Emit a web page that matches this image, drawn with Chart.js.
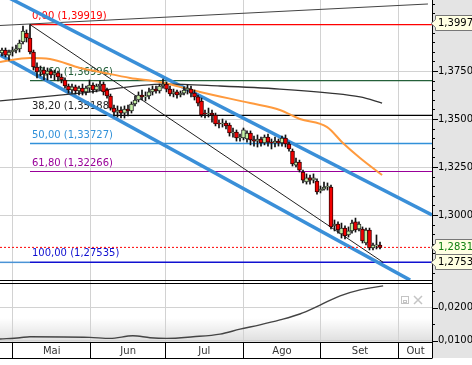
<!DOCTYPE html>
<html>
<head>
<meta charset="utf-8">
<script src="https://cdn.jsdelivr.net/npm/chart.js@4.4.0/dist/chart.umd.min.js"></script>
<style>
  html, body { margin: 0; padding: 0; background: #fff; }
  canvas { display: block; }
</style>
</head>
<body>
<canvas id="chart" width="472" height="365"></canvas>
<script>
// daily candles, one per trading day (index 0 = last days of April)
const opens = [
  1.3844, 1.3859, 1.3833, 1.3849, 1.3859, 1.3865, 1.3901, 1.3948, 1.3922, 1.3849,
  1.3771, 1.3745, 1.3755, 1.3734, 1.3750, 1.3729, 1.3740, 1.3719, 1.3703, 1.3672,
  1.3651, 1.3667, 1.3646, 1.3661, 1.3641, 1.3661, 1.3677, 1.3651, 1.3672, 1.3682,
  1.3651, 1.3620, 1.3557, 1.3536, 1.3547, 1.3531, 1.3552, 1.3542, 1.3578, 1.3599,
  1.3625, 1.3615, 1.3620, 1.3641, 1.3656, 1.3646, 1.3672, 1.3682, 1.3656, 1.3630,
  1.3641, 1.3625, 1.3635, 1.3651, 1.3656, 1.3635, 1.3615, 1.3594, 1.3531, 1.3526,
  1.3531, 1.3521, 1.3479, 1.3474, 1.3479, 1.3469, 1.3427, 1.3432, 1.3401, 1.3401,
  1.3396, 1.3427, 1.3391, 1.3385, 1.3396, 1.3375, 1.3406, 1.3380, 1.3375, 1.3385,
  1.3375, 1.3401, 1.3370, 1.3333, 1.3260, 1.3276, 1.3224, 1.3172, 1.3193, 1.3182,
  1.3177, 1.3125, 1.3135, 1.3146, 1.3146, 1.2943, 1.2953, 1.2901, 1.2932, 1.2896,
  1.2917, 1.2964, 1.2927, 1.2927, 1.2854, 1.2922, 1.2828, 1.2839, 1.2844
];
const highs = [
  1.3870, 1.3870, 1.3859, 1.3875, 1.3885, 1.3911, 1.3984, 1.3964, 1.3992, 1.3859,
  1.3792, 1.3776, 1.3771, 1.3766, 1.3760, 1.3755, 1.3750, 1.3734, 1.3714, 1.3682,
  1.3682, 1.3677, 1.3672, 1.3682, 1.3672, 1.3703, 1.3688, 1.3682, 1.3698, 1.3693,
  1.3661, 1.3630, 1.3573, 1.3568, 1.3563, 1.3568, 1.3573, 1.3589, 1.3620, 1.3641,
  1.3651, 1.3641, 1.3661, 1.3672, 1.3672, 1.3682, 1.3708, 1.3693, 1.3672, 1.3656,
  1.3651, 1.3646, 1.3667, 1.3677, 1.3672, 1.3651, 1.3625, 1.3609, 1.3547, 1.3557,
  1.3547, 1.3531, 1.3495, 1.3500, 1.3490, 1.3479, 1.3453, 1.3443, 1.3422, 1.3453,
  1.3438, 1.3438, 1.3411, 1.3417, 1.3406, 1.3417, 1.3422, 1.3396, 1.3406, 1.3396,
  1.3411, 1.3417, 1.3380, 1.3344, 1.3297, 1.3286, 1.3234, 1.3214, 1.3208, 1.3214,
  1.3188, 1.3151, 1.3172, 1.3167, 1.3156, 1.2974, 1.2964, 1.2958, 1.2943, 1.2938,
  1.2974, 1.2984, 1.2964, 1.2938, 1.2932, 1.2932, 1.2854, 1.2896, 1.2859
];
const lows = [
  1.3828, 1.3823, 1.3807, 1.3828, 1.3844, 1.3849, 1.3891, 1.3901, 1.3839, 1.3755,
  1.3714, 1.3724, 1.3703, 1.3703, 1.3714, 1.3703, 1.3698, 1.3688, 1.3661, 1.3635,
  1.3635, 1.3630, 1.3625, 1.3625, 1.3625, 1.3641, 1.3635, 1.3641, 1.3651, 1.3625,
  1.3609, 1.3547, 1.3516, 1.3510, 1.3505, 1.3505, 1.3516, 1.3531, 1.3568, 1.3589,
  1.3599, 1.3594, 1.3604, 1.3625, 1.3635, 1.3635, 1.3661, 1.3641, 1.3620, 1.3615,
  1.3609, 1.3615, 1.3625, 1.3630, 1.3615, 1.3599, 1.3568, 1.3510, 1.3505, 1.3510,
  1.3484, 1.3464, 1.3453, 1.3458, 1.3448, 1.3411, 1.3406, 1.3385, 1.3385, 1.3391,
  1.3380, 1.3365, 1.3359, 1.3354, 1.3359, 1.3365, 1.3359, 1.3344, 1.3354, 1.3359,
  1.3359, 1.3354, 1.3333, 1.3255, 1.3250, 1.3224, 1.3167, 1.3161, 1.3161, 1.3167,
  1.3109, 1.3115, 1.3130, 1.3130, 1.2927, 1.2917, 1.2906, 1.2880, 1.2875, 1.2885,
  1.2906, 1.2911, 1.2917, 1.2854, 1.2844, 1.2818, 1.2818, 1.2823, 1.2823
];
const closes = [
  1.3859, 1.3833, 1.3849, 1.3859, 1.3865, 1.3896, 1.3958, 1.3922, 1.3849, 1.3771,
  1.3745, 1.3755, 1.3734, 1.3750, 1.3729, 1.3740, 1.3719, 1.3703, 1.3672, 1.3651,
  1.3667, 1.3646, 1.3661, 1.3641, 1.3661, 1.3677, 1.3651, 1.3672, 1.3682, 1.3641,
  1.3620, 1.3557, 1.3536, 1.3547, 1.3531, 1.3552, 1.3542, 1.3578, 1.3599, 1.3625,
  1.3615, 1.3620, 1.3641, 1.3656, 1.3646, 1.3672, 1.3682, 1.3656, 1.3630, 1.3641,
  1.3625, 1.3635, 1.3651, 1.3661, 1.3635, 1.3615, 1.3583, 1.3521, 1.3526, 1.3531,
  1.3521, 1.3474, 1.3474, 1.3479, 1.3464, 1.3427, 1.3432, 1.3401, 1.3406, 1.3443,
  1.3427, 1.3391, 1.3385, 1.3396, 1.3375, 1.3406, 1.3380, 1.3375, 1.3385, 1.3375,
  1.3401, 1.3370, 1.3344, 1.3266, 1.3276, 1.3234, 1.3182, 1.3193, 1.3182, 1.3193,
  1.3120, 1.3135, 1.3146, 1.3151, 1.2938, 1.2953, 1.2922, 1.2932, 1.2891, 1.2917,
  1.2958, 1.2922, 1.2953, 1.2865, 1.2922, 1.2828, 1.2844, 1.2842, 1.2831
];

// moving averages (sampled along the curve)
const fastMaX = [-0.57, 8, 13.7, 22.3, 28, 36.6, 45.1, 56.6, 70.9, 79.4, 85.1, 92.9, 97.4, 102.3, 108.6];
const fastMaY = [1.3797, 1.3818, 1.3813, 1.3766, 1.3745, 1.3714, 1.3693, 1.3641, 1.3583, 1.3547, 1.3500, 1.3458, 1.3375, 1.3297, 1.3208];
const slowMaX = [-0.57, 22.3, 46.6, 62.3, 79.4, 93.7, 102.3, 108.6];
const slowMaY = [1.3594, 1.3635, 1.3682, 1.3672, 1.3656, 1.3635, 1.3615, 1.3583];

// drawn trend lines: [x start, x end], [price start, price end]
const upperChannelX = [-0.57, 122.86], upperChannelY = [1.4155, 1.3000];
const lowerChannelX = [-0.57, 116.6], lowerChannelY = [1.3833, 1.2661];
const fibBaseX = [8, 108.9], fibBaseY = [1.39919, 1.27535];
const topLineX = [-0.57, 121.7], topLineY = [1.3987, 1.4099];

// fibonacci retracement
const fibPcts = ['0,00', '23,60', '38,20', '50,00', '61,80', '100,00'];
const fibPrices = [1.39919, 1.36996, 1.35188, 1.33727, 1.32266, 1.27535];
const fibColors = ['#ff0000', '#24603a', '#000000', '#3191d9', '#990099', '#1010d0'];
const fibStart = 8;

const lastClose = 1.28314;
const axisMarks = [1.39975, 1.28314, 1.27535];
const axisMarkColors = ['#000000', '#108010', '#000000'];

// lower indicator panel
const indX = [-0.57, 5.1, 8, 25.1, 30.9, 37.4, 42.3, 47.1, 54.6, 62.3, 68, 73.7, 79.4, 85.1, 90.9, 96.6, 102.3, 108.9];
const indY = [0.0105, 0.0109, 0.0112, 0.0110, 0.0107, 0.0115, 0.0109, 0.0107, 0.0112, 0.0120, 0.0135, 0.0148, 0.0163, 0.0181, 0.0208, 0.0236, 0.0254, 0.0266];

// axes
const monthStarts = [3.06, 25.34, 46.77, 68.86, 91.14, 113.43];
const monthNames = ['Mai', 'Jun', 'Jul', 'Ago', 'Set', 'Out'];
const priceTickValues = [1.3, 1.325, 1.35, 1.375];
const priceTickLabels = ['1,3000', '1,3250', '1,3500', '1,3750'];
const indTickValues = [0.01, 0.02];
const indTickLabels = ['0,0100', '0,0200'];

const xMin = -0.57, xMax = 122.86;
const FONT = '"DejaVu Sans", Verdana, sans-serif';

Chart.defaults.font.family = FONT;
Chart.defaults.font.size = 10;

const idx = opens.map((_, i) => i);
const isUp = i => closes[i] >= opens[i];
const pts = (xs, ys) => xs.map((x, i) => ({ x: x, y: ys[i] }));
const flat = (x0, x1, v) => [{ x: x0, y: v }, { x: x1, y: v }];

function lineSet(data, color, width, order, extra) {
    return Object.assign({
        type: 'line', data: data, borderColor: color, borderWidth: width,
        pointRadius: 0, fill: false, tension: 0, yAxisID: 'y', order: order
    }, extra || {});
}

const datasets = [
    {
        type: 'bar', order: 0, grouped: false, barThickness: 4, minBarLength: 1,
        data: idx.map(i => ({ x: i, y: [opens[i], closes[i]] })),
        backgroundColor: idx.map(i => isUp(i) ? '#c4f0a4' : '#f20000'),
        borderColor: idx.map(i => isUp(i) ? '#2a2a2a' : '#3a0000'),
        borderWidth: 1, borderSkipped: false, yAxisID: 'y'
    },
    {
        type: 'bar', order: 1, grouped: false, barThickness: 1,
        data: idx.map(i => ({ x: i, y: [lows[i], highs[i]] })),
        backgroundColor: '#111', borderWidth: 0, yAxisID: 'y'
    },
    lineSet(flat(xMin, xMax, lastClose), '#ff0000', 1, 2, { borderDash: [2, 2] }),
    lineSet(pts(fastMaX, fastMaY), '#ff9a3d', 2, 3, { cubicInterpolationMode: 'monotone' }),
    lineSet(pts(slowMaX, slowMaY), '#333333', 1.3, 3, { cubicInterpolationMode: 'monotone' }),
    lineSet(pts(upperChannelX, upperChannelY), '#3a8fd8', 3.5, 4),
    lineSet(pts(lowerChannelX, lowerChannelY), '#3a8fd8', 3.5, 4),
    lineSet(pts(fibBaseX, fibBaseY), '#222222', 1, 4),
    lineSet(pts(topLineX, topLineY), '#444444', 1, 4),
    lineSet(flat(xMin, fibStart, fibPrices[5]), '#4a93d6', 1.5, 5),
    lineSet(pts(indX, indY), '#444444', 1.4, 3, { yAxisID: 'y2', cubicInterpolationMode: 'monotone' })
];
fibPrices.forEach((p, k) => {
    datasets.push(lineSet(flat(fibStart, xMax, p), fibColors[k], k === 3 || k === 5 ? 1.5 : 1.2, 5));
});

function fmt(v) { return v.toFixed(5).replace('.', ','); }

const decor = {
    id: 'decor',
    beforeDraw(chart) {
        const c = chart.ctx, a = chart.chartArea, y2 = chart.scales.y2;
        c.save();
        c.fillStyle = '#ffffff';
        c.fillRect(0, 0, chart.width, chart.height);
        c.fillStyle = '#e4e4e4';
        c.fillRect(a.right, 0, chart.width - a.right, 358);
        const g = c.createLinearGradient(0, y2.bottom - 24, 0, y2.bottom);
        g.addColorStop(0, 'rgba(0,0,0,0)');
        g.addColorStop(1, 'rgba(0,0,0,0.13)');
        c.fillStyle = g;
        c.fillRect(a.left, y2.bottom - 24, a.right - a.left, 24);
        c.restore();
    },
    beforeDatasetsDraw(chart) {
        const c = chart.ctx, xs = chart.scales.x, ys = chart.scales.y;
        c.save();
        c.font = '10px ' + FONT;
        c.textBaseline = 'middle';
        c.textAlign = 'left';
        fibPrices.forEach((p, k) => {
            c.fillStyle = fibColors[k] === '#000000' ? '#222' : fibColors[k];
            c.fillText(fibPcts[k] + ' (' + fmt(p) + ')', xs.getPixelForValue(fibStart) + 2, ys.getPixelForValue(p) - 8.5);
        });
        c.restore();
    },
    afterDraw(chart) {
        const c = chart.ctx, a = chart.chartArea, xs = chart.scales.x;
        const ys = chart.scales.y, y2 = chart.scales.y2;
        c.save();
        // axis tick marks
        c.strokeStyle = '#000';
        c.lineWidth = 1;
        [[ys, priceTickValues], [y2, indTickValues]].forEach(([s, majors]) => {
            s.ticks.forEach(t => {
                const major = majors.some(v => Math.abs(v - t.value) < 1e-9);
                const py = Math.round(s.getPixelForValue(t.value)) + 0.5;
                c.beginPath();
                c.moveTo(a.right, py);
                c.lineTo(a.right + (major ? 6 : 3), py);
                c.stroke();
            });
        });
        // panel borders
        c.beginPath();
        c.moveTo(a.left, ys.bottom - 0.5); c.lineTo(a.right, ys.bottom - 0.5);
        c.moveTo(a.left, ys.bottom + 2.5); c.lineTo(a.right, ys.bottom + 2.5);
        c.moveTo(a.left, 358.5); c.lineTo(a.right, 358.5);
        c.moveTo(a.right + 0.5, a.bottom); c.lineTo(a.right + 0.5, 358.5);
        c.stroke();
        // month names
        c.font = '10px ' + FONT;
        c.fillStyle = '#333';
        c.textAlign = 'center';
        c.textBaseline = 'middle';
        monthStarts.forEach((m, k) => {
            const x0 = xs.getPixelForValue(m);
            const x1 = k + 1 < monthStarts.length ? xs.getPixelForValue(monthStarts[k + 1]) : a.right;
            c.fillText(monthNames[k], (x0 + x1) / 2, 351);
        });
        // price markers on the axis
        c.textAlign = 'left';
        axisMarks.forEach((v, k) => {
            const py = Math.round(ys.getPixelForValue(v));
            c.fillStyle = '#ffffe2';
            c.strokeStyle = '#777';
            c.beginPath();
            c.moveTo(a.right - 1, py + 0.5);
            c.lineTo(a.right + 3.5, py - 3.5);
            c.lineTo(a.right + 3.5, py - 7.5);
            c.lineTo(chart.width + 2, py - 7.5);
            c.lineTo(chart.width + 2, py + 7.5);
            c.lineTo(a.right + 3.5, py + 7.5);
            c.lineTo(a.right + 3.5, py + 4.5);
            c.closePath();
            c.fill();
            c.stroke();
            c.fillStyle = axisMarkColors[k];
            c.fillText(fmt(v), a.right + 6, py + 0.5);
        });
        // panel buttons
        c.strokeStyle = '#c4c4c4';
        c.lineWidth = 1;
        c.strokeRect(401.5, 296.5, 7, 7);
        c.strokeRect(403.5, 300.5, 3, 2);
        c.lineWidth = 1.5;
        c.beginPath();
        c.moveTo(414, 296); c.lineTo(422, 304);
        c.moveTo(422, 296); c.lineTo(414, 304);
        c.stroke();
        c.restore();
    }
};

new Chart(document.getElementById('chart'), {
    type: 'bar',
    data: { datasets: datasets },
    options: {
        responsive: false,
        animation: false,
        events: [],
        layout: { padding: 0 },
        plugins: { legend: { display: false }, tooltip: { enabled: false } },
        scales: {
            x: {
                type: 'linear', min: xMin, max: xMax, offset: false,
                afterBuildTicks: s => { s.ticks = monthStarts.map(v => ({ value: v })); },
                afterFit: s => { s.height = 23; s.paddingLeft = 0; s.paddingRight = 0; },
                ticks: { display: false },
                grid: { offset: false, color: '#d2d2d2', tickLength: 16, tickColor: '#000' },
                border: { display: true, color: '#000' }
            },
            y: {
                type: 'linear', position: 'right', stack: 'panels', stackWeight: 281,
                min: 1.26563, max: 1.41198, beginAtZero: false,
                afterBuildTicks: s => {
                    const t = [];
                    for (let v = 1.27; v < 1.4101; v += 0.005) t.push({ value: +v.toFixed(3) });
                    s.ticks = t;
                },
                afterFit: s => { s.width = 40; s.paddingTop = 0; s.paddingBottom = 0; },
                ticks: {
                    autoSkip: false, padding: 6, color: '#000', font: { size: 10 },
                    callback: v => {
                        const k = priceTickValues.findIndex(p => Math.abs(p - v) < 1e-9);
                        return k >= 0 ? priceTickLabels[k] : '';
                    }
                },
                grid: {
                    drawTicks: false,
                    color: ctx => ctx.tick && priceTickValues.some(p => Math.abs(p - ctx.tick.value) < 1e-9) ? '#d2d2d2' : 'rgba(0,0,0,0)'
                },
                border: { color: '#000' }
            },
            y2: {
                type: 'linear', position: 'right', stack: 'panels', stackWeight: 61,
                min: 0.00961, max: 0.02809, beginAtZero: false,
                afterBuildTicks: s => { s.ticks = [0.01, 0.015, 0.02, 0.025].map(v => ({ value: v })); },
                afterFit: s => { s.width = 40; s.paddingTop = 0; s.paddingBottom = 0; },
                ticks: {
                    autoSkip: false, padding: 6, color: '#000', font: { size: 10 },
                    callback: v => {
                        const k = indTickValues.findIndex(p => Math.abs(p - v) < 1e-9);
                        return k >= 0 ? indTickLabels[k] : '';
                    }
                },
                grid: {
                    drawTicks: false,
                    color: ctx => ctx.tick && indTickValues.some(p => Math.abs(p - ctx.tick.value) < 1e-9) ? '#d2d2d2' : 'rgba(0,0,0,0)'
                },
                border: { color: '#000' }
            }
        }
    },
    plugins: [decor]
});
</script>
</body>
</html>
